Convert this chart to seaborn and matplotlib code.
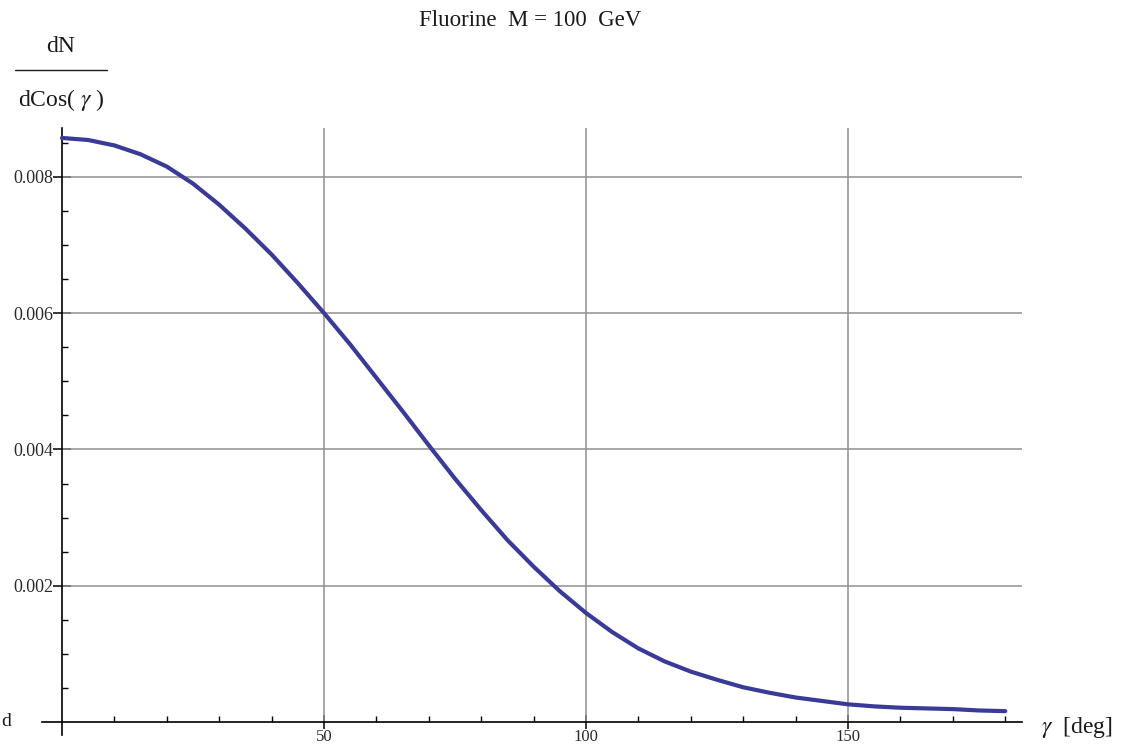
import matplotlib
matplotlib.use("Agg")
import matplotlib.pyplot as plt
from matplotlib.lines import Line2D
import numpy as np
import pandas as pd
import seaborn as sns

# Angular distribution dN/dCos(gamma) for fluorine, M = 100 GeV
gamma_deg = [0, 5, 10, 15, 20, 25, 30, 35, 40, 45, 50, 55, 60, 65, 70, 75, 80, 85,
             90, 95, 100, 105, 110, 115, 120, 125, 130, 135, 140, 145, 150, 155,
             160, 165, 170, 175, 180]
dn_dcos = [0.00857, 0.00854, 0.00846, 0.00833, 0.00815, 0.00790, 0.00759, 0.00724,
           0.00686, 0.00644, 0.00600, 0.00554, 0.00505, 0.00456, 0.00406, 0.00357,
           0.00311, 0.00267, 0.00228, 0.00192, 0.00160, 0.00132, 0.00108, 0.00089,
           0.00074, 0.00062, 0.00051, 0.00043, 0.00036, 0.00031, 0.00026, 0.00023,
           0.00021, 0.00020, 0.00019, 0.00017, 0.00016]

x_major = [50, 100, 150]
x_major_labels = ["50", "100", "150"]
y_major = [0.002, 0.004, 0.006, 0.008]
y_major_labels = ["0.002", "0.004", "0.006", "0.008"]

title_text = "Fluorine  M = 100  GeV"

sns.set_style("white")
plt.rcParams["font.family"] = ["Liberation Serif", "DejaVu Serif"]
plt.rcParams["mathtext.fontset"] = "stix"

W, H = 1124, 746
fig = plt.figure(figsize=(W / 100, H / 100), dpi=100)
ax = fig.add_axes([42 / W, 1 - 735 / H, (1022 - 42) / W, (735 - 128) / H])

xmin, xmax = -3.82, 183.2
ymin, ymax = -0.00019, 0.008716
ax.set_xlim(xmin, xmax)
ax.set_ylim(ymin, ymax)

grid_c = "#8f8f8f"
ax.vlines(x_major, 0, ymax, colors=grid_c, linewidth=1.1, zorder=1)
ax.hlines(y_major, 0, xmax, colors=grid_c, linewidth=1.1, zorder=1)

df = pd.DataFrame({"gamma": gamma_deg, "dN": dn_dcos})
sns.lineplot(data=df, x="gamma", y="dN", ax=ax, color="#3a3a98",
             linewidth=3.0, zorder=3)

# Axes crossing at the origin
for s in ["top", "right"]:
    ax.spines[s].set_visible(False)
ax.spines["left"].set_position(("data", 0))
ax.spines["bottom"].set_position(("data", 0))
for s in ["left", "bottom"]:
    ax.spines[s].set_linewidth(1.2)
    ax.spines[s].set_color("black")
    ax.spines[s].set_zorder(2)

ax.set_xticks(x_major)
ax.set_xticklabels(x_major_labels)
ax.set_xticks(np.arange(10, 181, 10), minor=True)
ax.set_yticks(y_major)
ax.set_yticklabels(y_major_labels)
ax.set_yticks(np.arange(0.0005, 0.0086, 0.0005), minor=True)

ax.tick_params(which="both", bottom=True, left=True, top=False, right=False)
ax.tick_params(axis="x", which="major", direction="inout", length=10, width=1.1,
               labelsize=12, pad=0, colors="black", labelcolor="#2a2a2a")
ax.tick_params(axis="x", which="minor", direction="in", length=4.5, width=1.0,
               colors="black")
ax.tick_params(axis="y", which="major", direction="inout", length=13, width=1.1,
               labelsize=13, pad=0, colors="black", labelcolor="#2a2a2a")
ax.tick_params(axis="y", which="minor", direction="in", length=4, width=1.0,
               colors="black")
ax.set_xlabel("")
ax.set_ylabel("")

# Title and axis labels
fig.text(530 / W, 1 - 20 / H, title_text, ha="center", va="center",
         fontsize=16.5, color="#1a1a1a")
fig.text(1077 / W, 1 - 727 / H, r"$\gamma$  [deg]", ha="center", va="center",
         fontsize=17, color="#1a1a1a")
fig.text(61 / W, 1 - 47 / H, "dN", ha="center", va="center",
         fontsize=17, color="#1a1a1a")
fig.add_artist(Line2D([15 / W, 107 / W], [1 - 70 / H, 1 - 70 / H],
                      transform=fig.transFigure, color="#1a1a1a", linewidth=1.0))
fig.text(61 / W, 1 - 100 / H, r"dCos( $\gamma$ )", ha="center", va="center",
         fontsize=17, color="#1a1a1a")
fig.text(1 / W, 1 - 722 / H, "d", ha="left", va="center",
         fontsize=14, color="#1a1a1a")

fig.savefig("out.png", dpi=100)
